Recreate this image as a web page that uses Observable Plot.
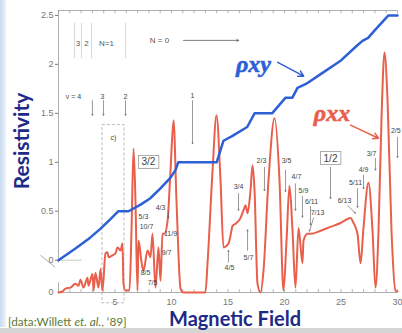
<!DOCTYPE html>
<html><head><meta charset="utf-8">
<script src="https://cdn.jsdelivr.net/npm/d3@7"></script>
<script src="https://cdn.jsdelivr.net/npm/@observablehq/plot@0.6"></script>
<style>
html,body{margin:0;padding:0;background:#fff;width:402px;height:333px;overflow:hidden;}
#wrap{position:relative;width:402px;height:333px;}
#strip{position:absolute;left:0;top:0;width:6px;height:327px;background:linear-gradient(to right,#c7daee,#eef4fa);}
#bottombar{position:absolute;left:0;top:328px;width:402px;height:5px;background:#d6d6d6;}
#chart{position:absolute;left:0;top:0;}
</style></head><body>
<div id="wrap"><div id="strip"></div><div id="bottombar"></div><div id="chart"></div></div>
<script>
// Hall resistivity rho_xy (h/e^2) vs magnetic field B (T)
const hallB   = [0, 1.5, 2.8, 3.7, 4.6, 5.3, 6.2, 7.3, 8.1, 9.0, 9.9, 10.35, 10.6, 14.0, 14.6, 15.4, 16.7, 17.35, 18.9, 20.1, 20.7, 21.15, 21.9, 23.2, 25.0, 26.4, 26.9, 27.4, 28.0, 29.2, 30];
const hallRho = [0, 0.12, 0.23, 0.32, 0.42, 0.5, 0.5, 0.57, 0.63, 0.73, 0.84, 0.92, 1.0, 1.0, 1.22, 1.27, 1.36, 1.5, 1.5, 1.66, 1.66, 1.76, 1.8, 1.9, 2.04, 2.19, 2.24, 2.27, 2.35, 2.5, 2.5];

// Longitudinal resistivity rho_xx (own zero) vs B
const longB   = [0, 0.35, 0.62, 1.06, 1.5, 1.77, 1.95, 2.21, 2.57, 2.65, 3.01, 3.1, 3.27, 3.54, 3.72, 3.89, 4.16, 4.34, 4.42, 4.78, 5.04, 5.22, 5.49, 5.66, 5.75, 5.93, 6.28, 6.46, 6.64, 6.81, 6.99, 7.08, 7.35, 7.52, 7.88, 8.14, 8.32, 8.58, 8.85, 9.03, 9.2, 9.38, 9.65, 9.91, 10.18, 10.44, 10.8, 11.06, 13.0, 13.19, 13.63, 13.98, 14.34, 14.6, 15.04, 15.22, 15.4, 15.75, 16.1, 16.37, 16.55, 16.73, 16.99, 17.17, 17.35, 17.61, 17.88, 18.14, 18.58, 19.12, 19.56, 19.91, 20.18, 20.44, 20.71, 20.97, 21.24, 21.59, 21.68, 22.04, 22.3, 23.19, 24.07, 24.96, 25.84, 26.11, 26.46, 26.73, 26.99, 27.43, 27.79, 28.05, 28.32, 28.58, 28.85, 29.12, 29.47, 29.82, 30.0];
const longRho = [0, 0.01, 0.04, 0.05, 0.09, 0.07, 0.13, 0.05, 0.15, 0.07, 0.19, 0.02, 0.2, 0.05, 0.24, 0.02, 0.4, 0.41, 0.36, 0.38, 0.4, 0.46, 0.43, 0.5, 0.09, 0.02, 0.02, 0.63, 1.47, 0.94, 0.02, 0.53, 0.31, 0.22, 0.43, 0.36, 0.6, 0.05, 0.46, 0.12, 0.6, 0.6, 0.73, 1.24, 1.76, 0.94, 0.04, 0, 0, 0.3, 1.24, 1.81, 1.14, 0.46, 0.5, 0.58, 0.68, 0.71, 0.76, 0.84, 0.89, 0.81, 1.04, 1.3, 1.04, 0.09, 0, 0.22, 1.14, 1.78, 1.14, 0.02, 0.53, 1.09, 0.63, 0.05, 0.66, 0.3, 0.53, 0.6, 0.6, 0.63, 0.67, 0.71, 0.76, 0.71, 0.6, 0.3, 0.66, 1.12, 0.63, 0.05, 0.63, 1.76, 2.45, 1.96, 0.63, 0.02, 0.01];
const RHO_XX_ZERO = -0.33; // rho_xx trace drawn with its zero shifted below the rho_xy zero

const yTicks = [0, 0.5, 1, 1.5, 2, 2.5];
const xTicks = [5, 10, 15, 20, 25, 30];
const minorTicks = d3.range(0, 31);

// filling-factor annotations
const fracText = ["ν = 4", "3", "2", "1", "2/3", "3/4", "4/3", "5/3", "10/7", "11/9", "9/7", "8/5", "7/5", "4/5", "5/7", "3/5", "4/7", "5/9", "6/11", "7/13", "6/13", "5/11", "4/9", "3/7", "2/5", "c)"];
const fracB    = [1.33, 3.89, 5.93, 11.86, 17.96, 15.93, 9.03, 7.52, 7.79, 9.91, 9.56, 7.7, 8.32, 15.13, 16.81, 20.18, 21.06, 21.68, 22.39, 22.92, 25.31, 26.28, 26.99, 27.7, 29.85, 4.87];
const fracY    = [1.67, 1.67, 1.67, 1.68, 1.02, 0.755, 0.54, 0.44, 0.34, 0.265, 0.08, -0.13, -0.235, -0.08, 0.03, 1.02, 0.85, 0.71, 0.6, 0.48, 0.61, 0.79, 0.92, 1.09, 1.32, 1.255];
const boxedText = ["3/2", "1/2"];
const boxedB    = [7.96, 24.07];
const boxedY    = [1.0, 1.04];

const arrB1 = [3.0, 3.98, 5.93, 11.86, 18.23, 15.93, 9.73, 15.04, 16.73, 20.09, 20.97, 21.59, 22.3, 22.57, 24.07, 25.58, 26.46, 26.99, 28.05, 30.0];
const arrY1 = [1.63, 1.63, 1.63, 1.63, 0.95, 0.68, 0.50, -0.02, 0.10, 0.92, 0.78, 0.65, 0.55, 0.43, 0.95, 0.56, 0.73, 0.87, 1.04, 1.255];
const arrB2 = [3.0, 3.98, 5.93, 11.86, 18.23, 15.93, 9.73, 15.04, 16.73, 20.09, 20.97, 21.59, 22.3, 22.21, 24.07, 26.28, 26.46, 26.99, 28.05, 30.0];
const arrY2 = [1.48, 1.48, 1.48, 1.19, 0.71, 0.51, 0.43, 0.10, 0.31, 0.70, 0.51, 0.44, 0.36, 0.296, 0.63, 0.48, 0.54, 0.73, 0.92, 1.05];

// Landau level markers at top left
const levelLineB = [1.42, 2.04, 2.92, 5.93];
const levelText = ["3", "2", "N=1", "N = 0"];
const levelTextB = [1.72, 2.48, 4.25, 8.94];
const levelTextY = [2.21, 2.21, 2.21, 2.245];
const nArrowB = [11.06, 15.93];
const boxCB = [3.89, 5.84];
const boxCY = [1.38, -0.44];

const BLUE = "#2d5fd6", RED = "#e8604c", GRAY = "#777";
const idx = (arr) => arr.map((_, i) => i);

const plot = Plot.plot({
  width: 402, height: 333,
  marginLeft: 58, marginRight: 5, marginTop: 10, marginBottom: 41,
  x: {domain: [0, 30], axis: null},
  y: {domain: [RHO_XX_ZERO, 2.55], axis: null},
  style: {fontFamily: "Liberation Sans, Arial, sans-serif", background: "transparent", overflow: "visible"},
  marks: [
    // frame pieces
    Plot.ruleY([2.55], {stroke: "#999", strokeWidth: 0.8}),
    Plot.ruleY([RHO_XX_ZERO], {stroke: "#999", strokeWidth: 0.8}),
    Plot.ruleX([0], {y1: -0.03, y2: 2.55, stroke: "#999", strokeWidth: 0.8}),
    Plot.ruleX([0], {y1: RHO_XX_ZERO, y2: RHO_XX_ZERO + 0.1, stroke: "#999", strokeWidth: 0.8}),
    Plot.ruleY([0], {x1: 0, x2: 2.1, stroke: "#bbb", strokeWidth: 0.8}),
    Plot.link([0], {x1: -1.6, y1: 0.05, x2: -0.3, y2: -0.07, stroke: "#999", strokeWidth: 0.8}),
    Plot.ruleX(minorTicks, {y1: 2.55, y2: 2.515, stroke: "#999", strokeWidth: 0.7}),
    Plot.ruleX(minorTicks, {y1: RHO_XX_ZERO, y2: RHO_XX_ZERO + 0.03, stroke: "#999", strokeWidth: 0.7}),
    Plot.axisY({ticks: yTicks, tickFormat: d => String(d), tickSize: 3, tickPadding: 2, fontSize: 9, color: GRAY, label: null}),
    Plot.text([RHO_XX_ZERO], {x: 0, y: d => d, text: () => "0", dx: -5, textAnchor: "end", fontSize: 9, fill: GRAY}),
    Plot.axisX({ticks: xTicks, tickSize: 0, tickPadding: 6, fontSize: 9, color: GRAY, label: null}),
    // level markers
    Plot.ruleX(levelLineB, {y1: 2.06, y2: 2.42, stroke: "#ccc", strokeWidth: 0.8}),
    Plot.text(levelText, {x: (d, i) => levelTextB[i], y: (d, i) => levelTextY[i], text: d => d, fontSize: 8, fill: "#555"}),
    Plot.arrow([0], {x1: nArrowB[0], x2: nArrowB[1], y1: 2.245, y2: 2.245, stroke: "#444", strokeWidth: 0.7, headLength: 4}),
    // dashed box c)
    Plot.rect([0], {x1: boxCB[0], x2: boxCB[1], y1: boxCY[0], y2: boxCY[1], fill: "none", stroke: "#aaa", strokeWidth: 0.8, strokeDasharray: "3,2"}),
    // data
    Plot.line(idx(longB), {x: i => longB[i], y: i => longRho[i] + RHO_XX_ZERO, stroke: RED, strokeWidth: 2, curve: "monotone-x"}),
    Plot.line(idx(hallB), {x: i => hallB[i], y: i => hallRho[i], stroke: BLUE, strokeWidth: 2.5, strokeLinejoin: "round"}),
    // annotations
    Plot.arrow(idx(arrB1), {x1: i => arrB1[i], y1: i => arrY1[i], x2: i => arrB2[i], y2: i => arrY2[i], stroke: "#555", strokeWidth: 0.6, headLength: 3}),
    Plot.text(fracText, {x: (d, i) => fracB[i], y: (d, i) => fracY[i], text: d => d, fontSize: 7, fill: "#444"}),
    Plot.text(boxedText, {x: (d, i) => boxedB[i], y: (d, i) => boxedY[i], text: d => d, fontSize: 10, fill: "#444"}),
    // series labels
    Plot.text(["ρxy"], {x: 17.25, y: 2.0, text: d => d, fontSize: 24, fontWeight: "bold", fontStyle: "italic", fontFamily: "Liberation Serif, Times New Roman, serif", fill: BLUE, stroke: BLUE, strokeWidth: 0.6}),
    Plot.text(["ρxx"], {x: 24.2, y: 1.5, text: d => d, fontSize: 24, fontWeight: "bold", fontStyle: "italic", fontFamily: "Liberation Serif, Times New Roman, serif", fill: RED, stroke: RED, strokeWidth: 0.6}),
    Plot.arrow([0], {x1: 19.4, y1: 2.02, x2: 21.7, y2: 1.88, stroke: BLUE, strokeWidth: 1.5, headLength: 6}),
    Plot.arrow([0], {x1: 25.84, y1: 1.38, x2: 28.32, y2: 1.245, stroke: RED, strokeWidth: 1.5, headLength: 6})
  ]
});
document.getElementById("chart").appendChild(plot);

const svg = d3.select(plot);
// boxes around boxed labels
svg.selectAll("text").filter(function() { return boxedText.includes(this.textContent); }).each(function() {
  const b = this.getBBox();
  d3.select(this.parentNode).insert("rect", () => this)
    .attr("transform", this.getAttribute("transform"))
    .attr("x", b.x - 3).attr("y", b.y - 1).attr("width", b.width + 6).attr("height", b.height + 2)
    .attr("fill", "#fff").attr("stroke", "#999").attr("stroke-width", 0.8);
});
svg.append("text").attr("transform", "translate(29,141) rotate(-90)").attr("text-anchor", "middle")
  .attr("font-family", "Lato, sans-serif").attr("font-weight", "bold").attr("font-size", 21).attr("fill", "#1d2a86").text("Resistivity");
svg.append("text").attr("x", 235).attr("y", 326).attr("text-anchor", "middle")
  .attr("font-family", "Lato, sans-serif").attr("font-weight", "bold").attr("font-size", 20).attr("fill", "#1d2a86").text("Magnetic Field");
const cap = svg.append("text").attr("x", 8).attr("y", 326).attr("text-anchor", "start").attr("font-family", "Lato, sans-serif").attr("font-size", 11.8).attr("fill", "#5b7a36");
cap.append("tspan").text("[data:Willett ");
cap.append("tspan").attr("font-style", "italic").text("et. al.");
cap.append("tspan").text(", ‘89]");
</script>
</body></html>
